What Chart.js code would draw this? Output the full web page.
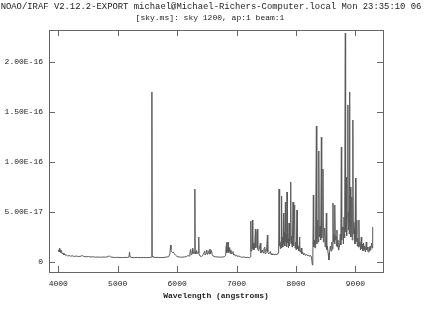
<!DOCTYPE html>
<html>
<head>
<meta charset="utf-8">
<script src="https://cdn.jsdelivr.net/npm/chart.js@4/dist/chart.umd.min.js"></script>
<style>
  html, body { margin: 0; padding: 0; background: #fff; }
  #wrap { width: 432px; height: 320px; }
</style>
</head>
<body>
<div id="wrap"><canvas id="chart" width="432" height="320"></canvas></div>
<script>
const headerLine1 = "NOAO/IRAF V2.12.2-EXPORT michael@Michael-Richers-Computer.local Mon 23:35:10 06";
const headerLine2 = "[sky.ms]: sky 1200, ap:1 beam:1";
const xTitle = "Wavelength (angstroms)";

const xTicks = [4000, 5000, 6000, 7000, 8000, 9000];
const yTicks = [0, 5, 10, 15, 20];          // in units of 1e-17
const xRange = [3844, 9464];
const yRange = [-1.0, 23.2];

// sky spectrum, flux in units of 1e-17
const wavelength = [
  4005, 4012, 4020, 4027, 4035, 4045, 4055, 4068, 4080, 4095, 4110, 4125, 4140, 4160, 4185, 4210,
  4240, 4270, 4300, 4340, 4380, 4410, 4430, 4470, 4510, 4550, 4590, 4630, 4670, 4710, 4750, 4800,
  4840, 4860, 4880, 4920, 4960, 5000, 5040, 5080, 5120, 5160, 5190, 5199, 5208, 5240, 5280, 5330,
  5380, 5430, 5480, 5530, 5565, 5574, 5577, 5580, 5590, 5630, 5680, 5730, 5780, 5830, 5860, 5878,
  5890, 5896, 5905, 5920, 5935, 5950, 5970, 6000, 6040, 6080, 6120, 6160, 6180, 6200, 6215, 6225,
  6235, 6250, 6257, 6265, 6278, 6290, 6297, 6300, 6304, 6315, 6329, 6340, 6355, 6364, 6368, 6385,
  6410, 6430, 6450, 6465, 6472, 6490, 6498, 6510, 6522, 6535, 6545, 6553, 6563, 6578, 6590, 6605,
  6640, 6690, 6740, 6790, 6815, 6826, 6831, 6836, 6848, 6856, 6862, 6875, 6884, 6893, 6905, 6914,
  6925, 6940, 6950, 6965, 6980, 7000, 7015, 7040, 7070, 7100, 7130, 7160, 7190, 7215, 7232, 7239,
  7245, 7258, 7267, 7273, 7285, 7292, 7303, 7317, 7322, 7330, 7340, 7351, 7357, 7370, 7385, 7401,
  7408, 7420, 7435, 7448, 7460, 7474, 7480, 7495, 7505, 7519, 7525, 7540, 7555, 7570, 7580, 7595,
  7610, 7625, 7645, 7660, 7680, 7698, 7708, 7715, 7720, 7730, 7738, 7748, 7755, 7761, 7770, 7778,
  7789, 7795, 7805, 7812, 7822, 7828, 7836, 7843, 7849, 7855, 7866, 7874, 7883, 7890, 7900, 7911,
  7917, 7925, 7933, 7942, 7950, 7956, 7966, 7978, 7984, 7995, 8005, 8017, 8023, 8035, 8048, 8062,
  8068, 8080, 8091, 8098, 8115, 8130, 8145, 8160, 8180, 8200, 8215, 8230, 8245, 8260, 8276, 8284,
  8292, 8298, 8310, 8320, 8330, 8343, 8350, 8357, 8365, 8372, 8380, 8387, 8393, 8405, 8415, 8427,
  8433, 8442, 8454, 8460, 8470, 8482, 8490, 8500, 8511, 8517, 8528, 8540, 8555, 8565, 8578, 8590,
  8603, 8610, 8622, 8628, 8640, 8648, 8656, 8662, 8672, 8680, 8689, 8696, 8706, 8715, 8723, 8733,
  8745, 8754, 8763, 8769, 8778, 8790, 8797, 8808, 8816, 8823, 8830, 8835, 8846, 8852, 8862, 8873,
  8879, 8887, 8895, 8901, 8906, 8917, 8923, 8932, 8940, 8946, 8957, 8963, 8972, 8985, 8992, 9002,
  9008, 9016, 9024, 9031, 9040, 9050, 9059, 9065, 9075, 9085, 9099, 9106, 9115, 9125, 9138, 9145,
  9155, 9168, 9183, 9190, 9200, 9212, 9227, 9235, 9245, 9258, 9272, 9280, 9288, 9294
];
const flux = [
  1.2, 1.05, 1.35, 1.0, 1.2, 0.95, 1.1, 0.8, 0.9, 0.7, 0.8, 0.65, 0.7, 0.6, 0.65, 0.58,
  0.62, 0.55, 0.6, 0.55, 0.58, 0.65, 0.55, 0.52, 0.55, 0.5, 0.52, 0.48, 0.5, 0.47, 0.5, 0.48,
  0.55, 0.62, 0.5, 0.47, 0.45, 0.47, 0.45, 0.44, 0.46, 0.45, 0.5, 1.0, 0.5, 0.45, 0.44, 0.46,
  0.43, 0.45, 0.44, 0.45, 0.48, 0.6, 17.0, 0.6, 0.5, 0.45, 0.46, 0.44, 0.46, 0.5, 0.55, 0.8,
  1.7, 1.3, 1.05, 0.95, 1.0, 0.85, 0.7, 0.55, 0.5, 0.48, 0.5, 0.55, 0.65, 0.6, 0.9, 1.25,
  0.75, 0.9, 1.35, 0.85, 1.0, 0.85, 1.2, 7.3, 1.0, 0.8, 1.15, 0.85, 0.9, 2.5, 0.85, 0.6,
  0.55, 0.65, 0.9, 1.1, 0.7, 0.9, 1.2, 0.75, 0.9, 1.15, 0.8, 1.3, 0.85, 1.15, 0.75, 0.6,
  0.52, 0.5, 0.48, 0.52, 0.65, 1.6, 1.95, 0.9, 1.1, 2.0, 0.95, 1.0, 1.45, 0.85, 1.2, 0.8,
  0.9, 1.05, 0.7, 0.8, 0.6, 0.7, 0.55, 0.6, 0.5, 0.48, 0.5, 0.44, 0.46, 0.42, 0.5, 4.1,
  1.1, 1.2, 4.2, 1.3, 1.9, 1.2, 1.5, 3.3, 1.4, 1.6, 2.9, 3.3, 1.3, 1.1, 1.4, 1.9,
  0.9, 1.0, 1.2, 0.9, 1.3, 1.5, 0.85, 1.3, 1.1, 2.7, 1.0, 0.8, 0.95, 1.05, 0.75, 0.85,
  0.7, 0.8, 0.7, 0.8, 0.72, 0.9, 1.2, 7.3, 1.6, 2.2, 1.3, 2.0, 6.6, 1.4, 2.5, 1.5,
  4.9, 1.8, 3.0, 1.6, 6.0, 2.0, 2.8, 1.5, 7.0, 1.9, 2.4, 1.4, 3.9, 1.6, 2.2, 8.0,
  1.8, 2.6, 1.5, 2.9, 6.0, 1.6, 2.4, 5.7, 1.4, 2.0, 1.2, 5.2, 1.3, 1.6, 1.1, 2.5,
  1.0, 1.1, 1.4, 0.8, 0.95, 0.7, 0.85, 0.65, 0.75, 0.6, 0.7, 0.55, 0.65, 0.5, -0.3, 0.9,
  6.7, 1.5, 2.2, 1.4, 3.0, 13.6, 1.8, 2.6, 4.2, 2.0, 3.4, 11.1, 2.5, 3.6, 2.2, 12.5,
  2.4, 3.2, 9.3, 2.0, 2.6, 3.4, 1.5, 2.2, 4.9, 1.2, 1.6, 0.9, 0.2, 1.0, 1.6, 1.1,
  2.0, 1.3, 5.9, 2.0, 2.8, 1.8, 5.7, 2.2, 2.6, 1.6, 3.2, 1.5, 2.2, 1.2, 1.4, 1.6,
  2.8, 1.7, 11.5, 2.2, 3.5, 3.2, 1.8, 4.5, 2.4, 5.5, 22.9, 3.0, 8.5, 2.6, 4.8, 15.7,
  3.2, 5.0, 2.8, 17.0, 3.6, 7.5, 2.5, 4.0, 6.5, 2.2, 14.2, 2.8, 4.0, 3.2, 1.8, 8.4,
  2.0, 2.8, 4.2, 1.6, 2.4, 1.5, 4.2, 1.6, 2.0, 1.2, 2.5, 1.3, 1.8, 1.1, 1.9, 1.2,
  1.6, 1.0, 2.0, 1.2, 1.5, 1.0, 1.5, 1.1, 1.6, 1.2, 1.9, 1.4, 2.0, 3.5
];

const FONT = "'Liberation Mono', 'DejaVu Sans Mono', monospace";
const INK = '#222';
const FRAME = '#666';

// frame with inward ticks on all four sides, plus the IRAF header lines
const irafFrame = {
  id: 'irafFrame',
  afterDraw(chart) {
    const { ctx, chartArea: a, scales } = chart;
    const tl = 6;
    ctx.save();
    ctx.strokeStyle = FRAME;
    ctx.lineWidth = 1;
    ctx.strokeRect(Math.round(a.left) + 0.5, Math.round(a.top) + 0.5,
                   Math.round(a.right - a.left), Math.round(a.bottom - a.top));
    ctx.beginPath();
    xTicks.forEach(v => {
      const px = Math.round(scales.x.getPixelForValue(v)) + 0.5;
      ctx.moveTo(px, a.bottom); ctx.lineTo(px, a.bottom - tl);
      ctx.moveTo(px, a.top); ctx.lineTo(px, a.top + tl);
    });
    yTicks.forEach(v => {
      const py = Math.round(scales.y.getPixelForValue(v)) + 0.5;
      ctx.moveTo(a.left, py); ctx.lineTo(a.left + tl, py);
      ctx.moveTo(a.right, py); ctx.lineTo(a.right - tl, py);
    });
    ctx.stroke();

    ctx.fillStyle = INK;
    ctx.textAlign = 'center';
    ctx.textBaseline = 'middle';
    ctx.font = '8.9px ' + FONT;
    ctx.fillText(headerLine1, 211, 7);
    ctx.font = '8px ' + FONT;
    ctx.fillText(headerLine2, 210, 18);
    ctx.restore();
  }
};

new Chart(document.getElementById('chart'), {
  type: 'line',
  data: {
    datasets: [{
      data: wavelength.map((w, i) => ({ x: w, y: flux[i] })),
      borderColor: '#5a5a5a',
      borderWidth: 1,
      pointRadius: 0,
      tension: 0,
      fill: false
    }]
  },
  options: {
    responsive: false,
    animation: false,
    devicePixelRatio: 1,
    layout: { padding: { top: 30, right: 49, left: 0, bottom: 0 } },
    plugins: { legend: { display: false }, tooltip: { enabled: false } },
    scales: {
      x: {
        type: 'linear',
        min: xRange[0],
        max: xRange[1],
        afterBuildTicks: s => { s.ticks = xTicks.map(v => ({ value: v })); },
        afterFit: s => { s.height = 48; },
        grid: { display: false, drawTicks: false },
        border: { display: false },
        ticks: {
          font: { family: FONT, size: 8 },
          color: INK,
          padding: 7,
          maxRotation: 0,
          autoSkip: false,
          callback: v => String(v)
        },
        title: {
          display: true,
          text: xTitle,
          font: { family: FONT, size: 8, weight: 'bold' },
          color: INK,
          padding: { top: 0, bottom: 19 }
        }
      },
      y: {
        type: 'linear',
        min: yRange[0],
        max: yRange[1],
        afterBuildTicks: s => { s.ticks = yTicks.map(v => ({ value: v })); },
        afterFit: s => { s.width = 49; },
        grid: { display: false, drawTicks: false },
        border: { display: false },
        ticks: {
          font: { family: FONT, size: 8 },
          color: INK,
          padding: 6,
          autoSkip: false,
          callback: v => v === 0 ? '0' : (v * 1e-17).toExponential(2).toUpperCase()
        }
      }
    }
  },
  plugins: [irafFrame]
});
</script>
</body>
</html>
